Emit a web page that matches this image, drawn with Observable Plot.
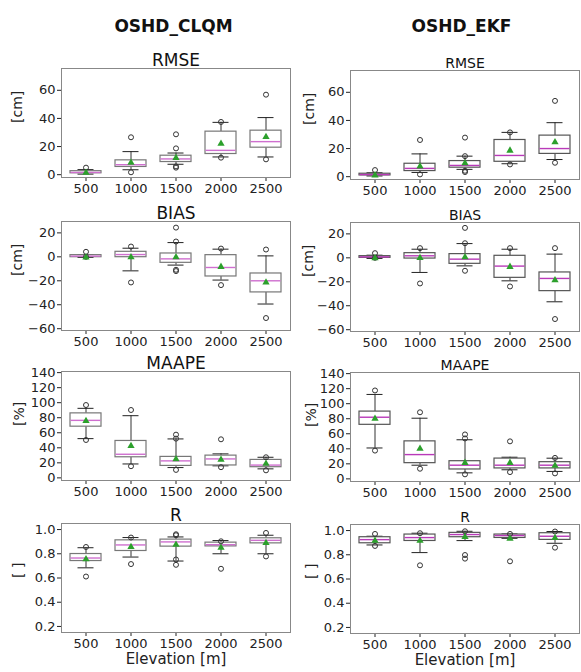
<!DOCTYPE html>
<html><head><meta charset="utf-8">
<script src="https://cdn.jsdelivr.net/npm/d3@7"></script>
<script src="https://cdn.jsdelivr.net/npm/@observablehq/plot@0.6"></script>
<style>
body{margin:0;background:#fff;font-family:"DejaVu Sans",sans-serif}
#wrap{position:relative;width:581px;height:672px;overflow:hidden;background:#fff}
#wrap > div{position:absolute}
</style></head><body><div id="wrap"></div>
<script>
// ---- data ----
const elevations = [500, 1000, 1500, 2000, 2500];
const columnTitles = ["OSHD_CLQM", "OSHD_EKF"];
const metricTitles = ["RMSE", "BIAS", "MAAPE", "R"];
const unitLabels = ["[cm]", "[cm]", "[%]", "[ ]"];
const xAxisLabel = "Elevation [m]";
const rmseTicks = [0, 20, 40, 60];
const biasTicks = [-60, -40, -20, 0, 20];
const maapeTicks = [0, 20, 40, 60, 80, 100, 120, 140];
const rTicks = [0.2, 0.4, 0.6, 0.8, 1.0];

// per elevation: [whisker low, q1, median, q3, whisker high, mean]
const clqmRmse = [[0.4,1.0,1.6,2.5,3.6,1.5],[3.5,5.5,7.1,10.2,16.4,8.5],[7.4,9.0,11.2,13.5,15.4,11.9],[12.6,14.7,17.3,30.6,37.2,22.1],[12.6,19.2,23.5,31.3,40.6,26.8]];
const clqmRmseOut = [[5.0],[1.7,26.6],[5.9,5.0,18.7,28.7],[12.1,37.5],[10.9,56.9]];
const ekfRmse = [[0.5,0.9,1.5,2.1,2.8,1.0],[3.0,4.0,5.9,9.2,16.2,7.3],[5.2,6.4,8.0,11.1,14.6,9.6],[9.2,10.6,15.1,26.1,31.5,18.6],[12.2,16.2,20.0,29.2,38.4,24.5]];
const ekfRmseOut = [[4.7],[1.6,26.1],[3.3,4.2,14.6,27.8],[8.7,31.5],[9.9,53.9]];

const clqmBias = [[-0.5,-0.3,0.6,1.4,1.9,-0.5],[-11.7,-0.3,1.9,4.2,7.2,-0.3],[-6.9,-5.0,-1.7,2.8,11.9,-0.3],[-19.4,-16.4,-8.9,1.4,6.4,-8.3],[-39.4,-29.7,-20.0,-13.9,0.8,-21.4]];
const clqmBiasOut = [[4.2,0],[8.6,-21.4],[24.4,12.8,-10.8,-11.9],[6.9,-23.6],[6.1,-51.1]];
const ekfBias = [[-0.5,0,0.8,1.4,2.2,-0.3],[-12.2,-0.6,1.7,3.9,7.2,0],[-6.7,-5.0,-1.1,3.1,11.9,0.6],[-19.2,-16.7,-6.9,1.7,7.2,-7.5],[-36.7,-27.8,-17.2,-12.2,3.1,-18.6]];
const ekfBiasOut = [[3.9,0],[8.1,-21.4],[25,12.2,-10.8],[8.1,-23.9],[8.1,-51.1]];

const clqmMaape = [[52.2,68.1,76.5,85.8,92.5,75.7],[18.5,27.4,31.4,49.1,82.7,42.5],[13.7,15.9,22.6,27.9,51.8,24.8],[16.0,16.5,25.2,29.6,31.9,24.3],[12.0,14.2,17.0,23.9,27.4,18.8]];
const clqmMaapeOut = [[96.9,50.4],[90.3,15.5],[57.5,52.2,10.6],[51.3,14.2],[27.4,10.0]];
const ekfMaape = [[41.1,71.9,82.0,89.5,112.3,80.2],[18.2,20.9,32.3,49.9,80.7,40.2],[8.0,12.5,18.2,23.5,52.0,21.4],[12.1,13.9,18.2,27.0,28.8,21.4],[9.9,13.9,18.2,22.2,27.5,17.6]];
const ekfMaapeOut = [[117.6,37.6],[88.6,13.5],[59.1,53.8,6.0],[49.9,9.0],[27.9,7.3]];

const clqmR = [[0.684,0.740,0.765,0.798,0.850,0.756],[0.773,0.823,0.873,0.911,0.934,0.856],[0.740,0.859,0.898,0.917,0.939,0.875],[0.800,0.861,0.875,0.892,0.909,0.850],[0.800,0.886,0.911,0.928,0.953,0.889]];
const clqmROut = [[0.856,0.612],[0.934,0.715],[0.953,0.961,0.753,0.709],[0.903,0.676],[0.972,0.778]];
const ekfR = [[0.881,0.895,0.925,0.945,0.953,0.917],[0.818,0.914,0.942,0.967,0.978,0.917],[0.917,0.945,0.967,0.981,0.994,0.948],[0.936,0.939,0.959,0.967,0.972,0.934],[0.895,0.923,0.953,0.978,0.992,0.939]];
const ekfROut = [[0.972,0.873],[0.978,0.713],[0.994,0.798,0.768],[0.972,0.746],[0.992,0.859]];

// ---- layout ----
const FW = 229, FH = 109;
const wrap = document.getElementById("wrap");

function panel(cfg) {
  const rows = elevations.map((e, i) => {
    const s = cfg.stats[i];
    return {e, wl: s[0], q1: s[1], med: s[2], q3: s[3], wh: s[4], mean: s[5]};
  });
  const outs = cfg.outliers.flatMap((arr, i) => arr.map(v => ({e: elevations[i], v})));
  const mt = cfg.frameTop - cfg.svgTop;
  const mb = cfg.mb;
  const marks = [
    Plot.axisX({tickSize: 4, tickPadding: 2, fontSize: 13, label: null, tickFormat: d => String(d)}),
    Plot.axisY({ticks: cfg.ticks, tickFormat: cfg.fmt, tickSize: 4, tickPadding: 2, fontSize: 13, label: null}),
    Plot.ruleX(rows, {x: "e", y1: "q3", y2: "wh", stroke: "#333"}),
    Plot.ruleX(rows, {x: "e", y1: "wl", y2: "q1", stroke: "#333"}),
    Plot.tickY(rows, {x: "e", y: "wh", insetLeft: 14.5, insetRight: 14.5, stroke: "#222"}),
    Plot.tickY(rows, {x: "e", y: "wl", insetLeft: 14.5, insetRight: 14.5, stroke: "#222"}),
    Plot.barY(rows, {x: "e", y1: "q1", y2: "q3", fill: "white", stroke: cfg.boxStroke, strokeWidth: 1.2, insetLeft: 7, insetRight: 7}),
    Plot.tickY(rows, {x: "e", y: "med", stroke: cfg.medColor, strokeWidth: 1.4, insetLeft: 7.5, insetRight: 7.5}),
    Plot.dot(outs, {x: "e", y: "v", r: 2.5, stroke: "#333", fill: "none", strokeWidth: 1}),
    Plot.dot(rows, {x: "e", y: "mean", symbol: "triangle", fill: "#2ca02c", r: 2.7}),
    Plot.frame({stroke: "#888"}),
    Plot.text([cfg.title], {text: d => d, frameAnchor: "top", dy: -3, lineAnchor: "bottom", fontSize: cfg.titleSize, fill: "#111"}),
    Plot.text([cfg.ylabel], {text: d => d, frameAnchor: "left", dx: cfg.ylabelX - cfg.svgLeft - cfg.ml, rotate: -90, fontSize: 14, fill: "#222"})
  ];
  if (cfg.header) marks.push(Plot.text([cfg.header], {text: d => d, frameAnchor: "top", dx: cfg.headerDx, dy: -(cfg.frameTop - 31), lineAnchor: "bottom", fontSize: 17, fontWeight: "bold", fill: "#111"}));
  if (cfg.xlabel) marks.push(Plot.text([cfg.xlabel], {text: d => d, frameAnchor: "bottom", dy: 31.5, fontSize: 15, fill: "#222"}));
  const plot = Plot.plot({
    width: cfg.ml + FW + 2,
    height: mt + FH + mb,
    marginLeft: cfg.ml, marginRight: 2, marginTop: mt, marginBottom: mb,
    style: {background: "transparent", fontFamily: "DejaVu Sans", color: "#222", overflow: "visible"},
    x: {type: "band", domain: elevations, padding: 0},
    y: {domain: cfg.domain},
    marks
  });
  const div = document.createElement("div");
  div.style.left = cfg.svgLeft + "px";
  div.style.top = cfg.svgTop + "px";
  div.appendChild(plot);
  wrap.appendChild(div);
}

const cols = [
  {svgLeft: 0, ml: 61, titleSize: 17, medColor: "#cf6fcf", boxStroke: "#777", headerDx: -2.5,
   data: [clqmRmse, clqmBias, clqmMaape, clqmR], outs: [clqmRmseOut, clqmBiasOut, clqmMaapeOut, clqmROut],
   tops: [68, 221, 371, 523], ylx: [17, 17, 19, 18.5]},
  {svgLeft: 290, ml: 60, titleSize: 14, medColor: "#b93ab9", boxStroke: "#555", headerDx: -3.5,
   data: [ekfRmse, ekfBias, ekfMaape, ekfR], outs: [ekfRmseOut, ekfBiasOut, ekfMaapeOut, ekfROut],
   tops: [70, 222, 372, 524], ylx: [309, 308.5, 311.5, 311]}
];
const domains = [[-2, 75.5], [-61.5, 29.5], [-3.5, 141.5], [0.15, 1.05]];
const tickSets = [rmseTicks, biasTicks, maapeTicks, rTicks];
const fmts = [d3.format("d"), d => d3.format("d")(d).replace("-", "\u2212"), d3.format("d"), d3.format(".1f")];

cols.forEach((c, ci) => {
  for (let k = 0; k < 4; k++) {
    panel({
      svgLeft: c.svgLeft, ml: c.ml,
      frameTop: c.tops[k],
      svgTop: k === 0 ? 0 : c.tops[k] - 30,
      mb: k === 3 ? 44 : 22,
      domain: domains[k], ticks: tickSets[k], fmt: fmts[k],
      stats: c.data[k], outliers: c.outs[k],
      title: metricTitles[k], titleSize: c.titleSize,
      ylabel: unitLabels[k], ylabelX: c.ylx[k],
      medColor: c.medColor, boxStroke: c.boxStroke,
      header: k === 0 ? columnTitles[ci] : null, headerDx: c.headerDx,
      xlabel: k === 3 ? xAxisLabel : null
    });
  }
});
</script></body></html>
